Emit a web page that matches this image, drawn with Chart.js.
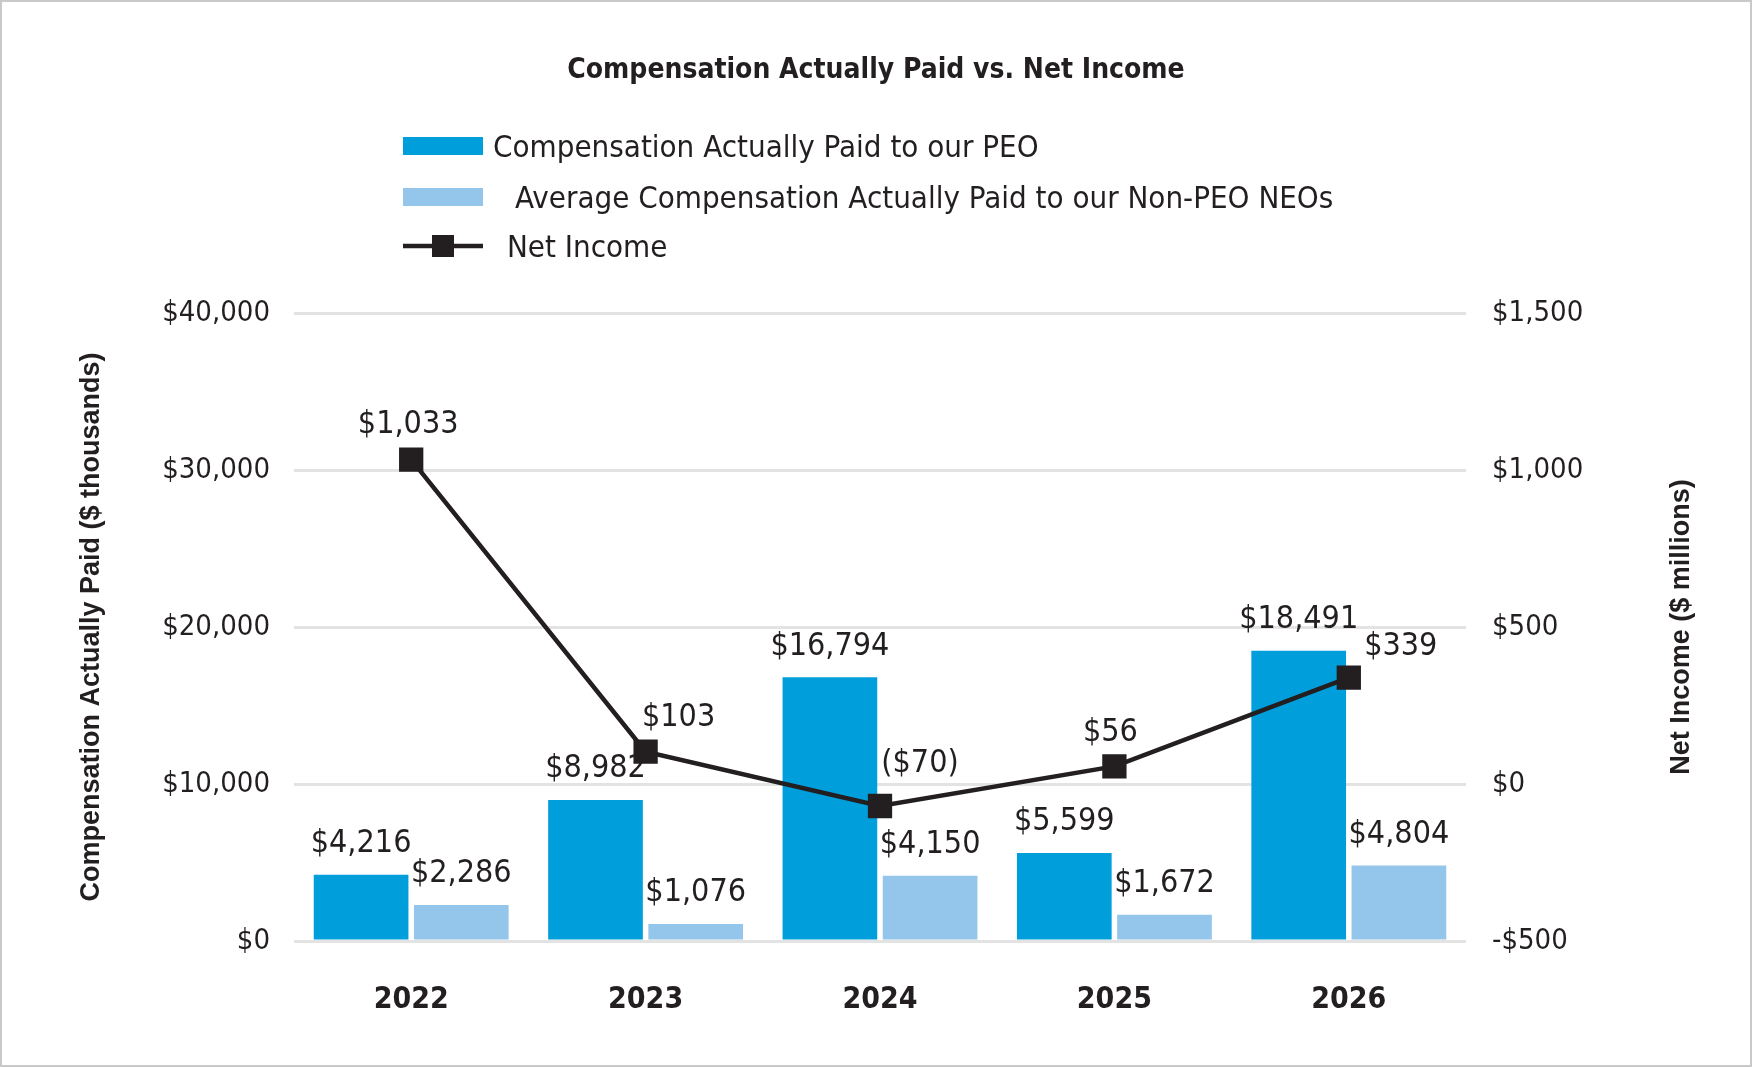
<!DOCTYPE html>
<html>
<head>
<meta charset="utf-8">
<title>Compensation Actually Paid vs. Net Income</title>
<script src="https://cdn.jsdelivr.net/npm/chart.js@4.4.1/dist/chart.umd.min.js"></script>
<style>
  html, body { margin: 0; padding: 0; background: #fff; }
  #wrap { width: 1752px; height: 1067px; }
</style>
</head>
<body>
<div id="wrap"><canvas id="capChart" width="1752" height="1067"></canvas></div>
<script>
// values
const years = ['2022', '2023', '2024', '2025', '2026'];
const peoCap = [4216, 8982, 16794, 5599, 18491];      // $ thousands
const neoCap = [2286, 1076, 4150, 1672, 4804];        // $ thousands
const netIncome = [1033, 103, -70, 56, 339];          // $ millions
const leftTicks = [0, 10000, 20000, 30000, 40000];
const rightTicks = [-500, 0, 500, 1000, 1500];

const colors = {
    peo: '#009fdb',
    neo: '#93c6ea',
    line: '#231f20',
    grid: '#e3e3e3',
    text: '#231f20'
};

const narrow = "'Liberation Sans Narrow', 'DejaVu Sans Condensed', sans-serif";
const wide = "'Liberation Sans', Arial, sans-serif";

// nudges for the net income labels so they clear the bars
const lineLabelShift = [[-3, -35], [33, -34], [40, -42], [-4, -34], [52, -31]];

const money = v => v < 0 ? '($' + Math.abs(v).toLocaleString('en-US') + ')' : '$' + v.toLocaleString('en-US');
const tickMoney = v => v < 0 ? '-$' + Math.abs(v).toLocaleString('en-US') : '$' + v.toLocaleString('en-US');

/* title, legend, axis titles, frame */
const chrome = {
    id: 'chrome',
    beforeDraw(chart) {
        const ctx = chart.ctx;
        ctx.save();
        ctx.fillStyle = '#fff';
        ctx.fillRect(0, 0, chart.width, chart.height);
        ctx.restore();
    },
    afterDraw(chart) {
        const ctx = chart.ctx;
        const area = chart.chartArea;
        ctx.save();
        ctx.fillStyle = colors.text;
        ctx.textBaseline = 'middle';

        ctx.textAlign = 'center';
        ctx.font = 'bold 28px ' + narrow;
        ctx.fillText('Compensation Actually Paid vs. Net Income', chart.width / 2, 71);

        // legend
        const ds = chart.data.datasets;
        ctx.textAlign = 'left';
        ctx.font = '31px ' + narrow;
        ctx.fillStyle = ds[1].backgroundColor;
        ctx.fillRect(403, 137, 80, 18);
        ctx.fillStyle = ds[2].backgroundColor;
        ctx.fillRect(403, 188, 80, 18);
        ctx.strokeStyle = ds[0].borderColor;
        ctx.lineWidth = 4.5;
        ctx.beginPath();
        ctx.moveTo(403, 246);
        ctx.lineTo(483, 246);
        ctx.stroke();
        ctx.fillStyle = ds[0].borderColor;
        ctx.fillRect(432, 235, 22, 22);
        ctx.fillStyle = colors.text;
        ctx.fillText(ds[1].label, 493, 149);
        ctx.fillText(ds[2].label, 515, 200);
        ctx.fillText(ds[0].label, 507, 249);

        // axis titles, both read bottom to top
        const midY = (area.top + area.bottom) / 2;
        ctx.font = 'bold 27px ' + wide;
        ctx.textAlign = 'center';
        ctx.translate(92, midY);
        ctx.rotate(-Math.PI / 2);
        ctx.fillText('Compensation Actually Paid ($ thousands)', 0, 0);
        ctx.setTransform(1, 0, 0, 1, 0, 0);
        ctx.translate(1682, midY);
        ctx.rotate(-Math.PI / 2);
        ctx.fillText('Net Income ($ millions)', 0, 0);
        ctx.setTransform(1, 0, 0, 1, 0, 0);

        ctx.strokeStyle = '#c9c9c9';
        ctx.lineWidth = 2;
        ctx.strokeRect(1, 1, chart.width - 2, chart.height - 2);
        ctx.restore();
    }
};

/* value labels over bars and points */
const valueLabels = {
    id: 'valueLabels',
    afterDatasetsDraw(chart) {
        const ctx = chart.ctx;
        ctx.save();
        ctx.fillStyle = colors.text;
        ctx.font = '32px ' + narrow;
        ctx.textAlign = 'center';
        ctx.textBaseline = 'middle';
        chart.data.datasets.forEach((ds, i) => {
            const meta = chart.getDatasetMeta(i);
            meta.data.forEach((el, j) => {
                const text = money(ds.data[j]);
                if (ds.type === 'line') {
                    const s = lineLabelShift[j];
                    ctx.fillText(text, el.x + s[0], el.y + s[1]);
                } else {
                    ctx.fillText(text, el.x, el.y - 31);
                }
            });
        });
        ctx.restore();
    }
};

new Chart(document.getElementById('capChart'), {
    data: {
        labels: years,
        datasets: [
            {
                type: 'line',
                label: 'Net Income',
                data: netIncome,
                yAxisID: 'y1',
                borderColor: colors.line,
                backgroundColor: colors.line,
                borderWidth: 4.5,
                tension: 0,
                pointStyle: 'rect',
                pointRadius: 14,
                pointHoverRadius: 14,
                order: 0
            },
            {
                type: 'bar',
                label: 'Compensation Actually Paid to our PEO',
                data: peoCap,
                yAxisID: 'y',
                backgroundColor: colors.peo,
                categoryPercentage: 0.855,
                barPercentage: 0.945,
                order: 1
            },
            {
                type: 'bar',
                label: 'Average Compensation Actually Paid to our Non-PEO NEOs',
                data: neoCap,
                yAxisID: 'y',
                backgroundColor: colors.neo,
                categoryPercentage: 0.855,
                barPercentage: 0.945,
                order: 2
            }
        ]
    },
    options: {
        responsive: false,
        devicePixelRatio: 1,
        animation: false,
        layout: { padding: { top: 313, left: 0, right: 0, bottom: 0 } },
        scales: {
            x: {
                grid: { display: false },
                border: { display: false },
                ticks: {
                    color: colors.text,
                    font: { family: narrow, size: 30, weight: 'bold' },
                    padding: 33
                },
                afterFit(scale) { scale.height = 126; }
            },
            y: {
                position: 'left',
                min: leftTicks[0],
                max: leftTicks[leftTicks.length - 1],
                afterBuildTicks(scale) { scale.ticks = leftTicks.map(v => ({ value: v })); },
                grid: { color: colors.grid, lineWidth: 3, drawTicks: false },
                border: { display: false },
                ticks: {
                    color: colors.text,
                    font: { family: narrow, size: 29 },
                    padding: 24,
                    callback: v => tickMoney(v)
                },
                afterFit(scale) { scale.width = 294; }
            },
            y1: {
                position: 'right',
                min: rightTicks[0],
                max: rightTicks[rightTicks.length - 1],
                afterBuildTicks(scale) { scale.ticks = rightTicks.map(v => ({ value: v })); },
                grid: { display: false, drawTicks: false },
                border: { display: false },
                ticks: {
                    color: colors.text,
                    font: { family: narrow, size: 29 },
                    padding: 26,
                    callback: v => tickMoney(v)
                },
                afterFit(scale) { scale.width = 286; }
            }
        },
        plugins: {
            legend: { display: false },
            title: { display: false },
            tooltip: { enabled: false }
        }
    },
    plugins: [chrome, valueLabels]
});
</script>
</body>
</html>
